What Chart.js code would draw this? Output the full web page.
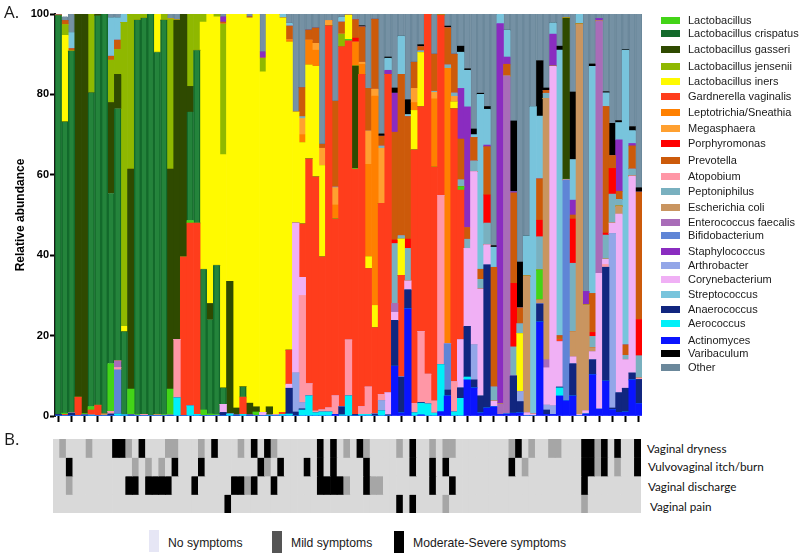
<!DOCTYPE html>
<html>
<head>
<meta charset="utf-8">
<title>Relative abundance and symptoms</title>
<script src="https://cdn.jsdelivr.net/npm/chart.js@4"></script>
<style>
  html, body { margin: 0; padding: 0; background: #fff; }
  #page { position: relative; width: 800px; height: 558px; overflow: hidden; font-family: "Liberation Sans", Arial, sans-serif; color: #1a1a1a; }
  #page canvas { position: absolute; }
  .txt { position: absolute; white-space: nowrap; line-height: 14px; }
  .swatch { position: absolute; }
  .panel { font-family: "Open Sans", sans-serif; font-size: 17px; line-height: 20px; }
  .rowname { font-family: Lato, sans-serif; color: #111; }
</style>
</head>
<body>
<div id="page">
  <canvas id="abundanceChart" width="800" height="425" style="left:0;top:0"></canvas>
  <canvas id="symptomChart" width="588" height="74" style="left:53px;top:439px"></canvas>
</div>
<script>
const barCount = 89;
const samples = Array.from({ length: barCount }, (_, i) => String(i + 1));

// every list below is [bar index, percent], bars not listed have none of that taxon
const actinomyces = [[42,.4],[51,12.4],[52,.8],[53,26.7],[55,.3],[58,1.1],[59,5],[62,9],[63,7],[64,.8],[65,2],[66,2.3],[67,.4],[68,.5],[69,.7],[70,.8],[73,23.4],[74,.4],[75,.4],[76,5],[77,3.8],[78,5],[80,.5],[81,10.3],[82,1.7],[83,8.7],[84,1.6],[85,.9],[86,1],[87,9],[88,3.1]];
const aerococcus = [[5,.2],[9,.5],[10,.3],[18,4.5],[20,2.5],[21,.4],[26,.5],[28,.4],[32,.2],[34,.4],[35,.5],[37,1.5],[38,5],[39,.8],[40,1],[41,1],[43,.3],[44,5],[46,.4],[47,.4],[49,1.3],[54,.8],[55,2.9],[56,3],[57,.7],[58,11.7],[60,1],[61,4.4],[62,.7],[76,2]];
const anaerococcus = [[0,.4],[2,.7],[4,.3],[8,.5],[11,.3],[17,.2],[25,.9],[27,.3],[29,.3],[35,6.4],[36,1],[37,.3],[43,2],[45,.4],[48,.5],[50,.3],[51,11.4],[52,8.9],[53,4.7],[55,.2],[59,1.5],[61,2.6],[62,12.6],[63,2],[64,4.2],[65,35.6],[69,9.3],[70,2.8],[73,4.5],[74,1.1],[76,.2],[78,8],[81,3.7],[83,28.3],[84,.4],[85,4.9],[86,5.9],[87,1.7],[88,6]];
const arthrobacter = [[36,9.7],[37,1.5],[49,2.5],[63,8.7],[70,2.4],[74,1.2],[75,2.1],[84,43.4]];
const bifidobacterium = [[9,11],[59,11.5],[77,54.9]];
const atopobium = [[8,.6],[9,.5],[13,.4],[18,14.5],[37,26.7],[38,3],[39,.4],[40,.5],[41,1],[42,4.6],[44,13.9],[46,1.9],[47,6.8],[49,1.5],[54,2.3],[55,17.6],[56,7.4],[57,3],[58,42],[60,7.5],[83,.7],[88,.3]];
const corynebacterium = [[25,2],[31,.9],[33,.3],[35,1],[36,37.3],[37,4.5],[50,5.5],[51,2],[53,2.2],[61,12],[62,19.4],[63,43.1],[64,26.6],[65,5],[66,1.4],[71,.8],[72,.5],[74,9.3],[75,84.5],[76,11.3],[78,1.7],[79,.4],[80,.8],[81,2],[82,33.8],[83,1.3],[84,2.6],[85,44.4],[86,7.1],[87,49]];
const enterococcus = [[9,1.7],[51,2.2],[67,2.6],[68,84.1],[74,2],[82,62.8]];
const escherichia = [[7,.5],[15,.4],[71,34],[73,1],[74,65],[78,6.3],[79,97.1],[80,26.3],[81,1],[85,2]];
const gardnerella = [[1,.4],[3,4.7],[5,1.3],[6,2.7],[19,39.6],[20,45.5],[21,47.6],[28,4.3],[34,.5],[35,8.5],[37,13.3],[38,56],[39,58.3],[40,38.1],[41,95.1],[42,44],[43,89.6],[44,74.4],[45,61],[46,82.7],[47,29.5],[48,21.5],[49,47.6],[50,79.2],[52,25.3],[54,63.1],[55,56],[56,89.6],[57,58.2],[58,45],[60,68],[61,37.2],[76,.7]];
const lactobacillus = [[1,.3],[4,.3],[5,.8],[8,11.9],[11,6.4],[12,.3],[16,.3],[17,6.5],[20,.6],[22,1.5],[23,.5],[24,.3],[30,1],[44,.4],[45,.2],[61,.8],[73,7.4],[77,.2]];
const crispatus = [[0,99.3],[1,72.5],[2,90.1],[5,78.2],[6,96.9],[7,99.5],[8,42.4],[9,62.8],[10,20.7],[12,98.2],[13,98.6],[14,100],[15,90.1],[16,98.2],[20,27.1],[21,43],[22,35],[23,23.5],[24,37.2],[25,4.1],[28,2.6]];
const gasseri = [[3,95.3],[4,99.4],[6,.4],[8,22.6],[9,8.5],[11,54.8],[17,54.8],[18,79.5],[19,60.4],[20,6.3],[23,4],[26,33],[27,1.7],[29,2.9],[30,1.3],[32,2.1],[45,25.5],[77,40.1]];
const iners = [[1,21.5],[10,1.3],[15,9.5],[22,61.5],[23,72],[24,61.8],[25,58],[26,66.5],[27,98],[28,92.7],[29,95.8],[30,97.7],[31,84.7],[32,97.7],[33,99.7],[34,98.1],[35,76.6],[36,27.6],[37,20.2],[38,23.3],[39,27.5],[40,22.7],[44,6],[47,2.9],[48,5.5],[52,9],[54,9.8],[55,13.4],[60,1.6],[70,14.5]];
const jensenii = [[1,2.7],[5,19.5],[8,10.5],[9,6.2],[10,75.6],[11,38.5],[12,1.5],[13,1],[16,1.5],[17,37.3],[20,18],[21,9],[22,2],[24,.7],[25,32.5],[31,3.4],[43,3.1]];
const leptotrichia = [[35,.6],[37,2],[38,6.2],[39,4],[42,3.5],[45,5.9],[46,2.5],[47,23],[48,52.1],[54,2],[57,17],[59,68.5]];
const megasphaera = [[37,4],[39,1.7],[40,4.3],[41,1.3],[42,4.3],[46,.5],[47,8.3],[48,1.7],[49,13.7],[54,3.5],[57,1.6],[60,1.4]];
const peptoniphilus = [[37,.5],[42,.2],[49,.6],[51,14.9],[52,.9],[53,8.1],[55,.5],[57,.3],[59,.9],[60,.9],[61,1.8],[62,2.3],[63,2.7],[64,2.4],[65,5.4],[66,3.6],[69,7.2],[70,2.5],[73,8.3],[74,1.3],[78,17],[81,2.8],[83,6],[84,7.2],[85,1.7],[86,1.1],[87,1.8],[88,5.6]];
const porphyromonas = [[45,1],[51,.9],[53,2.3],[65,7],[69,15.8],[73,4.1],[78,11],[81,1],[83,.5],[84,6.4],[88,9]];
const prevotella = [[1,1],[2,.6],[8,1],[9,2.3],[25,.5],[29,.3],[35,3.4],[37,7.2],[38,2.5],[39,3.8],[40,1],[42,21.3],[43,3],[45,4.6],[46,8.8],[47,10.6],[48,17.4],[49,2.4],[51,26.8],[52,40.1],[53,30.5],[54,6.5],[55,1],[57,9.2],[59,9.2],[60,9.6],[61,10.1],[62,2.9],[63,5.8],[64,2.5],[65,12],[66,29.7],[68,2.9],[69,22.5],[70,3.9],[73,10.3],[74,.7],[76,.8],[78,1],[81,9.7],[83,31.5],[84,3.2],[85,2],[86,2.6],[87,5.7],[88,31.7]];
const staphylococcus = [[0,.3],[25,1.3],[31,1.6],[50,1],[51,9.7],[61,12.6],[62,30],[65,.4],[67,94.6],[68,1.8],[69,.3],[75,8],[78,3.7],[80,3.4],[82,.6],[85,12.8],[87,.6]];
const streptococcus = [[2,4],[8,9.6],[9,5.6],[10,2.1],[34,1],[35,.7],[43,1.2],[50,3],[52,9.5],[53,.5],[61,9],[62,9.1],[63,.7],[64,43.5],[65,8.9],[66,5],[67,2.4],[68,6.7],[71,10],[72,76.5],[73,15.6],[75,2.8],[76,71],[78,10.1],[79,2.5],[81,56.5],[83,3.4],[85,4.3],[86,73.3],[87,3.2]];
const varibaculum = [[46,.3],[49,.6],[50,.3],[51,1.3],[53,3.7],[55,.5],[59,.4],[61,1.5],[62,.4],[63,1.4],[64,.3],[65,.7],[66,.4],[69,17.6],[70,11.4],[73,13.8],[74,.6],[76,1],[78,16.8],[81,.6],[83,.3],[84,8],[85,.5],[86,.2],[87,1],[88,1.1]];
const other = [[1,1],[2,4.6],[8,.9],[9,.9],[17,1.2],[18,1.5],[25,.7],[29,.7],[31,9.4],[35,2.3],[36,24.4],[37,18.3],[38,4],[39,3.5],[40,32.4],[41,1.6],[42,21.7],[43,.8],[44,.3],[45,1.4],[46,2.9],[47,18.5],[48,1.3],[49,29.8],[50,10.7],[51,18.4],[52,5.5],[53,21.3],[54,12],[55,7.6],[57,10],[58,.2],[59,3],[60,10],[61,8],[62,13.6],[63,28.6],[64,19.7],[65,23],[66,57.6],[68,4],[69,26.6],[70,61.7],[71,55.2],[72,23],[73,11.6],[74,18.4],[75,2.2],[76,8],[77,1],[78,19.4],[80,69],[81,12.4],[82,1.1],[83,19.3],[84,27.2],[85,26.5],[86,8.8],[87,28],[88,43.2]];

// symptom rows: [sample column, level] with 1 = mild, 2 = moderate-severe
const dryness = [[1,1],[5,1],[9,2],[10,2],[11,1],[13,2],[17,1],[18,1],[22,1],[24,2],[28,1],[30,2],[32,2],[33,1],[40,2],[42,2],[44,1],[46,2],[47,1],[52,1],[54,2],[57,1],[59,1],[60,1],[69,1],[70,2],[72,1],[75,1],[76,1],[80,2],[81,2],[82,1],[83,2],[85,2],[88,2]];
const itch = [[2,2],[12,1],[14,1],[16,1],[18,2],[22,2],[31,2],[32,1],[34,2],[38,2],[40,2],[42,2],[47,2],[54,2],[57,2],[59,2],[69,2],[71,1],[80,2],[81,2],[82,1],[83,2],[85,1],[88,2]];
const discharge = [[2,1],[11,2],[12,2],[14,2],[15,2],[16,2],[17,2],[21,2],[27,2],[28,2],[29,1],[30,2],[33,2],[40,2],[41,2],[42,2],[43,2],[44,1],[47,2],[48,1],[49,1],[57,2],[60,2],[80,2]];
const pain = [[26,2],[52,2],[54,2],[59,1],[80,1]];

const symptomRows = [dryness, itch, discharge, pain];
const symptomNames = ['Vaginal dryness', 'Vulvovaginal itch/burn', 'Vaginal discharge', 'Vaginal pain'];
const levelColors = ['#d9d9d9', '#a6a6a6', '#000000'];

// bottom to top order of the stack
const stackOrder = [
  ['Actinomyces', actinomyces, '#0a14ff'],
  ['Aerococcus', aerococcus, '#00f0f8'],
  ['Anaerococcus', anaerococcus, '#11267f'],
  ['Arthrobacter', arthrobacter, '#93a6e8'],
  ['Bifidobacterium', bifidobacterium, '#5f85d6'],
  ['Atopobium', atopobium, '#ff97a6'],
  ['Corynebacterium', corynebacterium, '#f0b0f5'],
  ['Enterococcus faecalis', enterococcus, '#a96cb8'],
  ['Escherichia coli', escherichia, '#c99560'],
  ['Gardnerella vaginalis', gardnerella, '#ff3d1c'],
  ['Lactobacillus', lactobacillus, '#43d417'],
  ['Lactobacillus crispatus', crispatus, '#24843b', '#136a2b'],
  ['Lactobacillus gasseri', gasseri, '#2f4a00'],
  ['Lactobacillus iners', iners, '#fffa00'],
  ['Lactobacillus jensenii', jensenii, '#8fb800'],
  ['Leptotrichia/Sneathia', leptotrichia, '#ff8000'],
  ['Megasphaera', megasphaera, '#ffa030'],
  ['Peptoniphilus', peptoniphilus, '#79b0bf'],
  ['Porphyromonas', porphyromonas, '#ff0000'],
  ['Prevotella', prevotella, '#cc5a0a'],
  ['Staphylococcus', staphylococcus, '#8a2cc0'],
  ['Streptococcus', streptococcus, '#78c4dc'],
  ['Varibaculum', varibaculum, '#000000'],
  ['Other', other, '#7591a4', '#6b889b'],
];

const legendOrder = ['Lactobacillus', 'Lactobacillus crispatus', 'Lactobacillus gasseri', 'Lactobacillus jensenii', 'Lactobacillus iners', 'Gardnerella vaginalis', 'Leptotrichia/Sneathia', 'Megasphaera', 'Porphyromonas', 'Prevotella', 'Atopobium', 'Peptoniphilus', 'Escherichia coli', 'Enterococcus faecalis', 'Bifidobacterium', 'Staphylococcus', 'Arthrobacter', 'Corynebacterium', 'Streptococcus', 'Anaerococcus', 'Aerococcus', 'Actinomyces', 'Varibaculum', 'Other'];
const legendRowY = [20, 33, 49, 66, 81, 96, 112, 128, 143, 160, 176, 191, 207, 222, 235, 251, 265, 279, 294, 309, 323, 340, 353, 367];

function fillBars(pairs, empty) {
  const out = new Array(barCount).fill(empty);
  pairs.forEach(([bar, value]) => { out[bar] = value; });
  return out;
}

new Chart(document.getElementById('abundanceChart'), {
  type: 'bar',
  data: {
    labels: samples,
    datasets: stackOrder.map(([label, pairs, color, stripe]) => ({
      label,
      data: fillBars(pairs, 0),
      backgroundColor: color,
      borderColor: stripe || color,
      borderWidth: stripe ? { left: 1.5, right: 1.5, top: 0, bottom: 0 } : 0,
      barPercentage: 1,
      categoryPercentage: 1,
    })),
  },
  options: {
    responsive: false,
    animation: false,
    layout: { autoPadding: false, padding: { top: 14, right: 158, left: 0, bottom: 0 } },
    plugins: { legend: { display: false }, tooltip: { enabled: false } },
    scales: {
      x: {
        stacked: true,
        afterFit: (scale) => { scale.height = 9; },
        border: { display: false },
        grid: {
          offset: false,
          drawOnChartArea: false,
          tickLength: 6,
          tickWidth: 2,
          tickColor: (ctx) => (ctx.index % 2 === 0 ? '#000' : 'rgba(0,0,0,0)'),
        },
        ticks: { display: true, autoSkip: false, maxRotation: 0, font: { size: 1 }, color: 'rgba(0,0,0,0)' },
      },
      y: {
        stacked: true,
        min: 0,
        max: 100,
        afterFit: (scale) => { scale.width = 55; },
        border: { color: '#1a1a1a', width: 2 },
        grid: { drawOnChartArea: false, tickLength: 5, tickWidth: 2, tickColor: '#000' },
        ticks: {
          stepSize: 20,
          padding: 1,
          color: '#000',
          font: { family: '"Liberation Sans"', size: 11, weight: 'bold' },
        },
        title: {
          display: true,
          text: 'Relative abundance',
          color: '#000',
          font: { family: '"Liberation Sans"', size: 12, weight: 'bold' },
          padding: { top: 13, bottom: 0 },
        },
      },
    },
  },
});

new Chart(document.getElementById('symptomChart'), {
  type: 'bar',
  data: {
    labels: samples,
    datasets: symptomRows.map((row, r) => ({
      label: symptomNames[r],
      data: samples.map(() => [r, r + 1]),
      backgroundColor: fillBars(row, 0).map((level) => levelColors[level]),
      borderWidth: 0,
      grouped: false,
      barPercentage: 1,
      categoryPercentage: 1,
    })),
  },
  options: {
    responsive: false,
    animation: false,
    layout: { autoPadding: false, padding: 0 },
    plugins: { legend: { display: false }, tooltip: { enabled: false } },
    scales: {
      x: { display: false },
      y: { display: false, min: 0, max: 4, reverse: true },
    },
  },
});

// text around the two charts
const page = document.getElementById('page');
function addText(text, x, y, size, cls) {
  const el = document.createElement('div');
  el.className = cls || 'txt';
  el.textContent = text;
  el.style.left = x + 'px';
  el.style.top = (y - 7) + 'px';
  if (size) el.style.fontSize = size + 'px';
  page.appendChild(el);
  return el;
}
function addSwatch(x, y, w, h, color) {
  const el = document.createElement('div');
  el.className = 'swatch';
  el.style.cssText = `left:${x}px;top:${y}px;width:${w}px;height:${h}px;background:${color}`;
  page.appendChild(el);
}

legendOrder.forEach((name, i) => {
  const entry = stackOrder.find((s) => s[0] === name);
  addSwatch(661, legendRowY[i] - 3.5, 18.5, 7, entry[3] || entry[2]);
  addText(name, 688, legendRowY[i], 11);
});

addText('A.', 4, 9, null, 'txt panel');
addText('B.', 4, 436, null, 'txt panel');

addText(symptomNames[0], 647, 448, 11.7, 'txt rowname');
addText(symptomNames[1], 648, 466, 11.7, 'txt rowname');
addText(symptomNames[2], 648, 486, 11.7, 'txt rowname');
addText(symptomNames[3], 650, 506, 11.7, 'txt rowname');

addSwatch(149, 530, 10, 22, '#e6e6f5');
addText('No symptoms', 168, 543, 12.2);
addSwatch(272, 531, 10, 22, '#555555');
addText('Mild symptoms', 291, 543, 12.2);
addSwatch(394, 531, 10, 22, '#000000');
addText('Moderate-Severe symptoms', 413, 543, 12.2);
</script>
</body>
</html>
